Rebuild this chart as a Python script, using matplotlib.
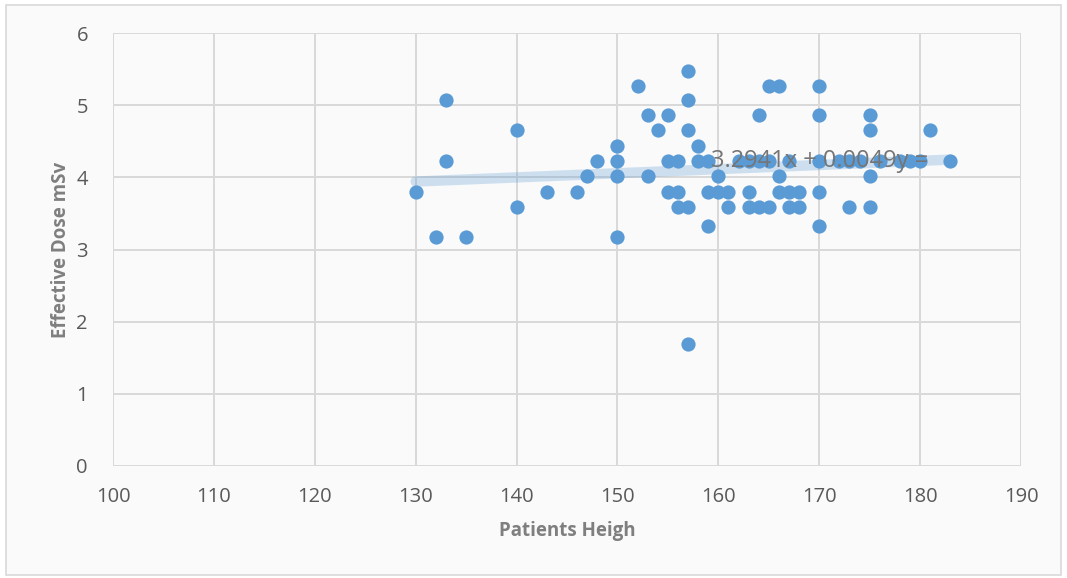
import matplotlib.pyplot as plt
import numpy as np
from matplotlib.patches import Rectangle

plt.rcParams['font.family'] = ['Open Sans', 'DejaVu Sans']

# patient height (cm) and effective dose (mSv)
heights = [157,
           152, 165, 166, 170,
           133, 157,
           153, 155, 164, 170, 175,
           140, 154, 157, 175, 181,
           150, 158,
           133, 148, 150, 155, 156, 158, 159, 162, 163, 164, 165, 167, 170,
           172, 173, 174, 176, 178, 179, 180, 183,
           147, 150, 153, 160, 166, 175,
           130, 143, 146, 155, 156, 159, 160, 161, 163, 166, 167, 168, 170,
           140, 156, 157, 161, 163, 164, 165, 167, 168, 173, 175,
           159, 170,
           132, 135, 150,
           157]
doses = [5.48,
         5.27, 5.27, 5.27, 5.27,
         5.07, 5.07,
         4.86, 4.86, 4.86, 4.86, 4.86,
         4.65, 4.65, 4.65, 4.65, 4.65,
         4.44, 4.44,
         4.23, 4.23, 4.23, 4.23, 4.23, 4.23, 4.23, 4.23, 4.23, 4.23, 4.23, 4.23, 4.23,
         4.23, 4.23, 4.23, 4.23, 4.23, 4.23, 4.23, 4.23,
         4.02, 4.02, 4.02, 4.02, 4.02, 4.02,
         3.80, 3.80, 3.80, 3.80, 3.80, 3.80, 3.80, 3.80, 3.80, 3.80, 3.80, 3.80, 3.80,
         3.59, 3.59, 3.59, 3.59, 3.59, 3.59, 3.59, 3.59, 3.59, 3.59, 3.59,
         3.32, 3.32,
         3.17, 3.17, 3.17,
         1.69]
trend_label = "3.2941x + 0.0049y ="

fig = plt.figure(figsize=(10.67, 5.78), dpi=100)
fig.patch.set_facecolor('white')
fig.patches.append(Rectangle((0.006, 0.006), 0.988, 0.985, transform=fig.transFigure,
                             fill=True, facecolor='#fafafa', edgecolor='#d9d9d9', lw=1.2,
                             zorder=-5))
ax = fig.add_axes([0.1059, 0.1938, 0.851, 0.749])
ax.set_facecolor('none')

# linear trendline
x = np.array(heights, dtype=float)
y = np.array(doses)
slope, intercept = np.polyfit(x, y, 1)
xs = np.array([x.min(), x.max()])
ax.plot(xs, slope * xs + intercept, color='#5b9bd5', alpha=0.28, lw=7.5,
        solid_capstyle='round', zorder=2)

ax.scatter(x, y, s=105, color='#5b9bd5', zorder=3, linewidths=0)

ax.text(159.3, 4.22, trend_label, fontsize=17, color='#757575', va='center',
        ha='left', zorder=4)

ax.set_xlim(100, 190)
ax.set_ylim(0, 6)
ax.set_xticks(range(100, 191, 10))
ax.set_yticks(range(0, 7))
ax.grid(True, color='#d9d9d9', lw=1.4)
ax.set_axisbelow(True)
for s in ax.spines.values():
    s.set_visible(False)
ax.tick_params(length=0, labelsize=14.5, colors='#595959')
ax.tick_params(axis='x', pad=15)
ax.tick_params(axis='y', pad=18)

ax.set_xlabel('Patients Heigh', fontsize=13.5, fontweight='bold', color='#7f7f7f', labelpad=10)
ax.set_ylabel('Effective Dose mSv', fontsize=13.5, fontweight='bold', color='#7f7f7f', labelpad=4)

fig.savefig('out.png', dpi=100)
